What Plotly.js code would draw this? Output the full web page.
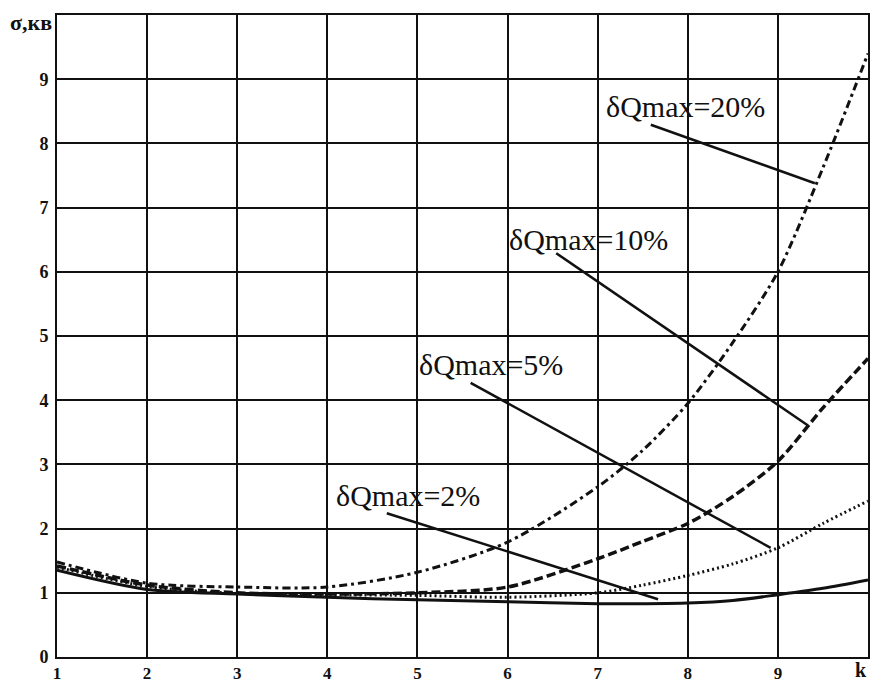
<!DOCTYPE html>
<html>
<head>
<meta charset="utf-8">
<script src="https://cdn.plot.ly/plotly-3.0.1.min.js"></script>
<style>
html,body{margin:0;padding:0;background:#fff;}
#chart{width:872px;height:683px;}
</style>
</head>
<body>
<div id="chart"></div>
<script>
// k values (x axis)
const k = [1, 2, 3, 4, 5, 6, 7, 7.5, 8, 8.5, 9, 9.5, 10];
// sigma values for each δQmax curve
const sigma20 = [1.48, 1.15, 1.09, 1.09, 1.32, 1.79, 2.65, 3.22, 3.95, 4.9, 6.0, 7.62, 9.4];
const sigma10 = [1.42, 1.12, 1.00, 0.98, 1.00, 1.09, 1.53, 1.80, 2.08, 2.5, 3.05, 3.88, 4.65];
const sigma5  = [1.40, 1.10, 0.99, 0.97, 0.96, 0.93, 1.00, 1.12, 1.27, 1.45, 1.70, 2.08, 2.43];
const sigma2  = [1.35, 1.05, 0.98, 0.93, 0.89, 0.86, 0.83, 0.83, 0.84, 0.88, 0.97, 1.07, 1.20];

const labels = ['δQmax=20%', 'δQmax=10%', 'δQmax=5%', 'δQmax=2%'];
// label positions (text centre) and leader line end points, in data units
const labelX = [7.97, 6.9, 5.82, 4.9];
const labelY = [8.57, 6.5, 4.55, 2.52];
const leadFromX = [7.59, 6.54, 5.59, 4.66];
const leadFromY = [8.29, 6.29, 4.27, 2.24];
const leadToX = [9.41, 9.33, 8.92, 7.67];
const leadToY = [7.38, 3.61, 1.70, 0.90];

const xTicks = [1, 2, 3, 4, 5, 6, 7, 8, 9];
const yTicks = [0, 1, 2, 3, 4, 5, 6, 7, 8, 9];

const serif = 'Liberation Serif, Times New Roman, serif';

const traces = [
  {x: k, y: sigma20, mode: 'lines', line: {color: '#111', width: 3, dash: '8px,4px,3px,4px', shape: 'spline', smoothing: 0.8}},
  {x: k, y: sigma10, mode: 'lines', line: {color: '#111', width: 3.5, dash: '9px,4px', shape: 'spline', smoothing: 0.8}},
  {x: k, y: sigma5,  mode: 'lines', line: {color: '#111', width: 3, dash: '2px,3px', shape: 'spline', smoothing: 0.8}},
  {x: k, y: sigma2,  mode: 'lines', line: {color: '#111', width: 3, shape: 'spline', smoothing: 0.8}}
];

const shapes = labels.map((_, i) => ({
  type: 'line', xref: 'x', yref: 'y',
  x0: leadFromX[i], y0: leadFromY[i], x1: leadToX[i], y1: leadToY[i],
  line: {color: '#111', width: 2.5}
}));

const annotations = labels.map((t, i) => ({
  x: labelX[i], y: labelY[i], xref: 'x', yref: 'y', text: t, showarrow: false,
  font: {family: serif, size: 30, color: '#111'}, xanchor: 'center', yanchor: 'middle'
}));
annotations.push({
  xref: 'paper', yref: 'y', x: 0, y: 9.88, xanchor: 'right', yanchor: 'middle', xshift: -3,
  text: '<b>σ,кв</b>', showarrow: false, font: {family: serif, size: 22, color: '#111'}
});
annotations.push({
  xref: 'paper', yref: 'paper', x: 1, y: 0, xanchor: 'right', yanchor: 'top', xshift: 1, yshift: 0,
  text: '<b>k</b>', showarrow: false, font: {family: serif, size: 20, color: '#111'}
});

const axisCommon = {
  showgrid: true, gridcolor: '#111', gridwidth: 2,
  showline: true, linecolor: '#111', linewidth: 2, mirror: true,
  zeroline: false, ticks: ''
};

const layout = {
  width: 872, height: 683,
  margin: {l: 57, r: 4, t: 15, b: 26},
  paper_bgcolor: '#fff', plot_bgcolor: '#fff',
  showlegend: false,
  xaxis: Object.assign({}, axisCommon, {range: [1, 10], tickvals: xTicks, ticktext: xTicks.map(String),
    tickfont: {family: serif, size: 17, color: '#111', weight: 'bold'}}),
  yaxis: Object.assign({}, axisCommon, {range: [0, 10], tickvals: yTicks, ticktext: yTicks.map(String), ticklabelstandoff: 3,
    tickfont: {family: serif, size: 18, color: '#111', weight: 'bold'}}),
  shapes: shapes,
  annotations: annotations
};

Plotly.newPlot('chart', traces, layout, {staticPlot: true});
</script>
</body>
</html>
